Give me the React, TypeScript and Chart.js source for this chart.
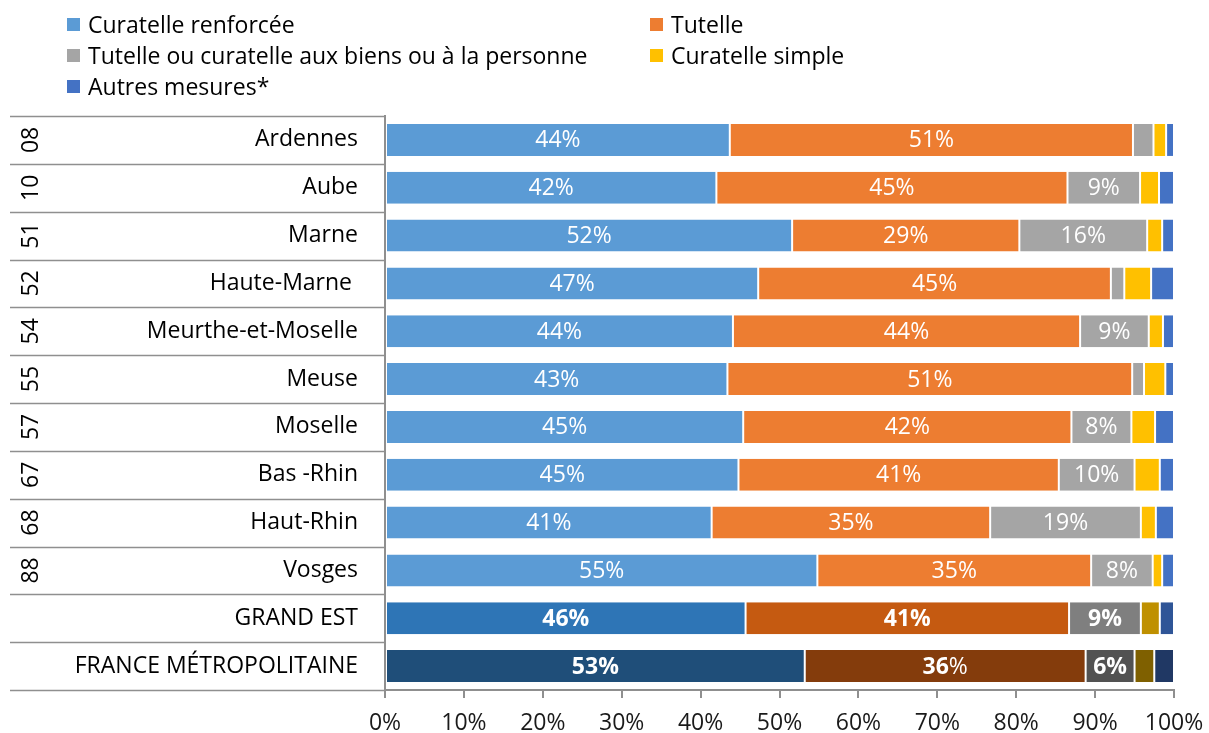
import React, { useEffect, useRef } from "react";
import { Chart, registerables } from "chart.js";

Chart.register(...registerables);

const categories = [
  "Ardennes",
  "Aube",
  "Marne",
  "Haute-Marne ",
  "Meurthe-et-Moselle",
  "Meuse",
  "Moselle",
  "Bas -Rhin",
  "Haut-Rhin",
  "Vosges",
  "GRAND EST",
  "FRANCE MÉTROPOLITAINE",
];
const deptCodes = ["08", "10", "51", "52", "54", "55", "57", "67", "68", "88", "", ""];

const seriesNames = [
  "Curatelle renforcée",
  "Tutelle",
  "Tutelle ou curatelle aux biens ou à la personne",
  "Curatelle simple",
  "Autres mesures*",
];

const curatelleRenforcee = [43.7, 42.0, 51.6, 47.3, 44.1, 43.4, 45.4, 44.8, 41.4, 54.8, 45.7, 53.2];
const tutelle = [51.1, 44.5, 28.8, 44.7, 44.0, 51.3, 41.6, 40.6, 35.3, 34.7, 41.0, 35.6];
const tutelleBiensPersonne = [2.6, 9.2, 16.2, 1.7, 8.7, 1.5, 7.6, 9.6, 19.1, 7.8, 9.1, 6.2];
const curatelleSimple = [1.6, 2.4, 1.9, 3.4, 1.8, 2.7, 3.0, 3.2, 1.9, 1.2, 2.4, 2.5];
const autresMesures = [1.0, 1.9, 1.5, 2.9, 1.4, 1.1, 2.4, 1.8, 2.3, 1.5, 1.8, 2.5];

const xTicks = [0, 10, 20, 30, 40, 50, 60, 70, 80, 90, 100];

const baseColors = ["#5B9BD5", "#ED7D31", "#A5A5A5", "#FFC000", "#4472C4"];
const grandEstColors = ["#2E75B6", "#C55A11", "#7F7F7F", "#BF9000", "#2F5597"];
const franceColors = ["#1F4E79", "#843C0C", "#525252", "#7F6000", "#203864"];

const FONT = "'Open Sans', 'Noto Sans', sans-serif";
const LINE_COLOR = "#8f8f8f";

function colorsFor(seriesIdx: number) {
  return categories.map((_, i) =>
    i === 10 ? grandEstColors[seriesIdx] : i === 11 ? franceColors[seriesIdx] : baseColors[seriesIdx]
  );
}

const segLabelPlugin = {
  id: "segLabels",
  afterDatasetsDraw(chart: any) {
    const ctx = chart.ctx;
    ctx.save();
    ctx.fillStyle = "#ffffff";
    ctx.textBaseline = "middle";
    chart.data.datasets.forEach((ds: any, di: number) => {
      if (di > 2) return;
      const meta = chart.getDatasetMeta(di);
      meta.data.forEach((el: any, i: number) => {
        const v = ds.data[i];
        if (v < 5) return;
        const cx = (el.x + el.base) / 2;
        const cy = el.y + 1;
        const num = String(Math.round(v));
        const bold = i >= 10;
        if (i === 11 && di === 1) {
          ctx.font = `bold 23px ${FONT}`;
          const w1 = ctx.measureText(num).width;
          ctx.font = `23px ${FONT}`;
          const w2 = ctx.measureText("%").width;
          const start = cx - (w1 + w2) / 2;
          ctx.textAlign = "left";
          ctx.font = `bold 23px ${FONT}`;
          ctx.fillText(num, start, cy);
          ctx.font = `23px ${FONT}`;
          ctx.fillText("%", start + w1, cy);
        } else {
          ctx.textAlign = "center";
          ctx.font = `${bold ? "bold " : ""}23px ${FONT}`;
          ctx.fillText(num + "%", cx, cy);
        }
      });
    });
    ctx.restore();
  },
};

const tablePlugin = {
  id: "tableLines",
  afterDraw(chart: any) {
    const ctx = chart.ctx;
    const y = chart.scales.y;
    const area = chart.chartArea;
    const n = categories.length;
    const band = y.getPixelForValue(1) - y.getPixelForValue(0);
    ctx.save();
    ctx.strokeStyle = LINE_COLOR;
    ctx.lineWidth = 1.5;
    for (let k = 0; k <= n; k++) {
      const yy = Math.round(y.getPixelForValue(0) - band / 2 + k * band) + 0.5;
      ctx.beginPath();
      ctx.moveTo(10, yy);
      ctx.lineTo(area.left, yy);
      ctx.stroke();
    }
    ctx.fillStyle = "#000000";
    ctx.font = `23px ${FONT}`;
    ctx.textAlign = "center";
    ctx.textBaseline = "middle";
    deptCodes.forEach((code, i) => {
      if (!code) return;
      ctx.save();
      ctx.translate(31, y.getPixelForValue(i));
      ctx.rotate(-Math.PI / 2);
      ctx.fillText(code, 0, 0);
      ctx.restore();
    });
    ctx.restore();
  },
};

const legendLayout = [
  { idx: 0, left: 67, top: 24 },
  { idx: 1, left: 650, top: 24 },
  { idx: 2, left: 67, top: 55 },
  { idx: 3, left: 650, top: 55 },
  { idx: 4, left: 67, top: 86 },
];

export default function App() {
  const canvasRef = useRef<HTMLCanvasElement | null>(null);

  useEffect(() => {
    if (!canvasRef.current) return;
    const seriesData = [curatelleRenforcee, tutelle, tutelleBiensPersonne, curatelleSimple, autresMesures];
    const chart = new Chart(canvasRef.current, {
      type: "bar",
      data: {
        labels: categories,
        datasets: seriesData.map((d, si) => ({
          label: seriesNames[si],
          data: d,
          backgroundColor: colorsFor(si),
          borderColor: "#ffffff",
          borderWidth: { left: 1, right: 1, top: 0, bottom: 0 },
          borderSkipped: false,
          categoryPercentage: 1,
          barPercentage: 0.67,
        })),
      },
      options: {
        indexAxis: "y",
        animation: false,
        responsive: true,
        maintainAspectRatio: false,
        layout: { padding: { top: 116, right: 35, left: 0, bottom: 0 } },
        plugins: {
          legend: { display: false },
          tooltip: { enabled: false },
          title: { display: false },
        },
        scales: {
          x: {
            type: "linear",
            stacked: true,
            min: 0,
            max: 100,
            afterBuildTicks: (scale: any) => {
              scale.ticks = xTicks.map((v) => ({ value: v }));
            },
            ticks: {
              callback: (v: any) => v + "%",
              font: { family: FONT, size: 23 },
              color: "#1a1a1a",
              padding: 12,
              maxRotation: 0,
            },
            grid: {
              drawOnChartArea: false,
              drawTicks: true,
              tickLength: 8,
              color: LINE_COLOR,
              lineWidth: 2,
            },
            border: { display: true, color: LINE_COLOR, width: 2 },
            afterFit: (scale: any) => {
              scale.height = 43;
              scale.paddingLeft = 0;
              scale.paddingRight = 0;
            },
          },
          y: {
            stacked: true,
            ticks: {
              font: { family: FONT, size: 23 },
              color: "#000000",
              padding: 19,
            },
            grid: { display: false },
            border: { display: true, color: LINE_COLOR, width: 2 },
            afterFit: (scale: any) => {
              scale.width = 385;
              scale.paddingTop = 0;
              scale.paddingBottom = 0;
            },
          },
        },
      },
      plugins: [segLabelPlugin, tablePlugin],
    } as any);
    return () => chart.destroy();
  }, []);

  return (
    <div
      style={{
        position: "fixed",
        left: 0,
        top: 0,
        width: 1209,
        height: 733,
        overflow: "hidden",
        background: "#ffffff",
      }}
    >
      <canvas ref={canvasRef} style={{ display: "block" }} />
      {legendLayout.map((it) => (
        <div
          key={it.idx}
          style={{
            position: "absolute",
            left: it.left,
            top: it.top - 16,
            height: 32,
            display: "flex",
            alignItems: "center",
            fontFamily: FONT,
            fontSize: 23,
            color: "#000",
            whiteSpace: "nowrap",
          }}
        >
          <span
            style={{
              display: "inline-block",
              width: 13,
              height: 13,
              background: baseColors[it.idx],
              marginRight: 8,
            }}
          />
          <span>{seriesNames[it.idx]}</span>
        </div>
      ))}
    </div>
  );
}
